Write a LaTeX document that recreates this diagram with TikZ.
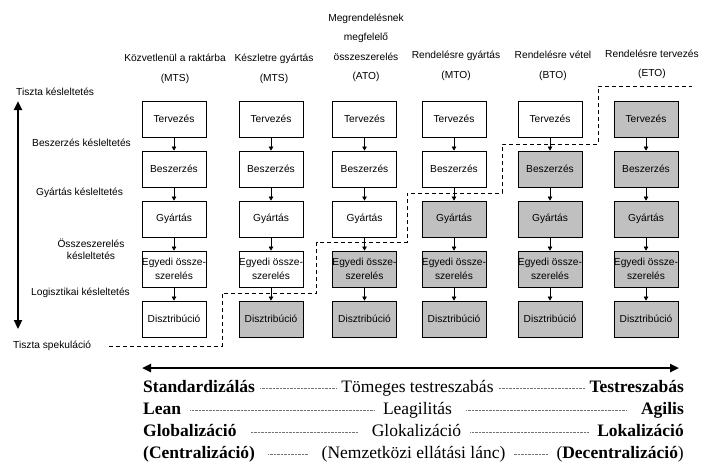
\documentclass[tikz,border=0pt]{standalone}
\usepackage{fontspec}
\setmainfont{Liberation Serif}
\setsansfont{Liberation Sans}
\usetikzlibrary{arrows.meta,calc}
\definecolor{boxshade}{HTML}{C0C0C0}
\begin{document}
\begin{tikzpicture}[x=1pt,y=-1pt,
  stepbox/.style={draw, line width=0.8pt, minimum width=64pt, minimum height=36pt, inner sep=0pt, align=center, font=\sffamily\fontsize{10.2}{14}\selectfont},
  shadedbox/.style={fill=boxshade},
  flow/.style={-{Triangle[length=4pt,width=4.5pt]}, line width=0.6pt},
  lbl/.style={font=\sffamily\fontsize{10.2}{12}\selectfont, inner sep=0pt, align=center},
  hdr/.style={font=\sffamily\fontsize{10.2}{19.5}\selectfont, inner sep=0pt, align=center},
  bigarrow/.style={{Triangle[length=9pt,width=8pt]}-{Triangle[length=9pt,width=8pt]}, line width=2.5pt},
  cutline/.style={dash pattern=on 4pt off 3pt, line width=0.7pt},
  bot/.style={font=\fontsize{17.5}{20}\selectfont, inner sep=0pt},
  dots/.style={black!55, line width=0.45pt, dash pattern=on 0.6pt off 0.8pt}
]
\useasboundingbox (0,0) rectangle (708,472);

% column headers
\node[hdr] (h1) at (175,69) {Közvetlenül a raktárba\\(MTS)};
\node[hdr] (h2) at (274,69) {Készletre gyártás\\(MTS)};
\node[hdr] (h3) at (366,48) {Megrendelésnek\\megfelelő\\összeszerelés\\(ATO)};
\node[hdr] (h4) at (456,66) {Rendelésre gyártás\\(MTO)};
\node[hdr] (h5) at (553,66) {Rendelésre vétel\\(BTO)};
\node[hdr] (h6) at (652,64.5) {Rendelésre tervezés\\(ETO)};

% boxes
\foreach \xx [count=\c] in {174,271,364.5,454,550,646} {
  \foreach \txt [count=\r] in {Tervezés,Beszerzés,Gyártás,{Egyedi össze-\\szerelés},Disztribúció} {
    \pgfmathtruncatemacro{\yy}{119+50*(\r-1)}
    \pgfmathtruncatemacro{\sh}{\r+\c}
    \ifnum\sh>6
      \node[stepbox,shadedbox] (b-\c-\r) at (\xx,\yy) {\txt};
    \else
      \node[stepbox] (b-\c-\r) at (\xx,\yy) {\txt};
    \fi
  }
  \foreach \r [evaluate=\r as \rr using int(\r+1)] in {1,2,3,4} {
    \draw[flow] (b-\c-\r.south) -- (b-\c-\rr.north);
  }
}

% left labels
\node[lbl, anchor=west] (l1) at (16,92) {Tiszta késleltetés};
\node[lbl, anchor=west] (l2) at (32,143) {Beszerzés késleltetés};
\node[lbl, anchor=west] (l3) at (36,193) {Gyártás késleltetés};
\node[lbl] (l4) at (91,249) {Összeszerelés\\késleltetés};
\node[lbl, anchor=west] (l5) at (31,293) {Logisztikai késleltetés};
\node[lbl, anchor=west] (l6) at (13,346) {Tiszta spekuláció};

% left vertical arrow
\coordinate (ltop) at (18,101);
\coordinate (lbot) at (18,329);
\draw[bigarrow] (ltop) -- (lbot);

% dashed boundary
\coordinate (d0) at (109,346);
\draw[cutline] (d0) -| (222,293) -| (316.5,242) -| (407,193) -| (502,144) -| (598,86) -- (692,86);

% bottom arrow
\coordinate (bl) at (142,368);
\coordinate (br) at (679,368);
\draw[bigarrow] (bl) -- (br);

% bottom rows
\node[bot, anchor=base west] (s1) at (143,392) {\textbf{Standardizálás}};
\node[bot, anchor=base] (m1) at (417.5,392) {Tömeges testreszabás};
\node[bot, anchor=base east] (e1) at (684,392) {\textbf{Testreszabás}};

\node[bot, anchor=base west] (s2) at (143,414) {\textbf{Lean}};
\node[bot, anchor=base] (m2) at (417.5,414) {Leagilitás};
\node[bot, anchor=base east] (e2) at (684,414) {\textbf{Agilis}};

\node[bot, anchor=base west] (s3) at (143,436) {\textbf{Globalizáció}};
\node[bot, anchor=base] (m3) at (416.5,436) {Glokalizáció};
\node[bot, anchor=base east] (e3) at (684,436) {\textbf{Lokalizáció}};

\node[bot, anchor=base west] (s4) at (143,458) {\textbf{(Centralizáció)}};
\node[bot, anchor=base] (m4) at (413.5,458) {(Nemzetközi ellátási lánc)};
\node[bot, anchor=base east] (e4) at (684,458) {(\textbf{Decentralizáció})};

\foreach \i/\ga/\gb in {1/5/5,2/9/14,3/14/9,4/13/8} {
  \draw[dots] ($(s\i.base east)+(\ga,-4)$) -- ($(m\i.base west)+(-\ga,-4)$);
  \draw[dots] ($(m\i.base east)+(\gb,-4)$) -- ($(e\i.base west)+(-\gb,-4)$);
}
\end{tikzpicture}
\end{document}
